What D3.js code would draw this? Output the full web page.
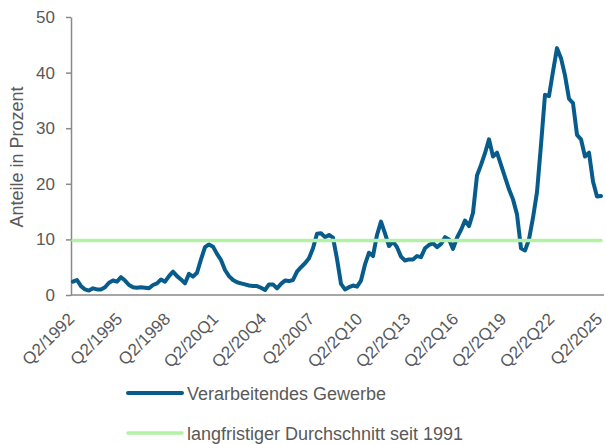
<!DOCTYPE html>
<html>
<head>
<meta charset="utf-8">
<script src="https://cdn.jsdelivr.net/npm/d3@7"></script>
<style>
  html, body { margin: 0; padding: 0; background: #fff; }
  text { font-family: "Liberation Sans", Arial, sans-serif; }
</style>
</head>
<body>
<svg id="chart" width="606" height="444"></svg>
<script>
// ---- Data ----
const seriesValues = [
  2.4, 2.7, 1.6, 1.0, 0.8, 1.2, 1.0, 1.0, 1.4, 2.2,
  2.6, 2.4, 3.2, 2.6, 1.8, 1.4, 1.3, 1.4, 1.3, 1.2,
  1.8, 2.1, 2.8, 2.4, 3.4, 4.2, 3.4, 2.8, 2.1, 3.8,
  3.3, 4.0, 6.4, 8.6, 9.1, 8.7, 7.4, 6.3, 4.5, 3.4,
  2.7, 2.3, 2.1, 1.9, 1.7, 1.6, 1.6, 1.3, 0.9, 1.9,
  1.9, 1.2, 2.0, 2.6, 2.5, 2.7, 4.2, 5.0, 5.7, 6.6,
  8.4, 11.0, 11.1, 10.4, 10.8, 10.3, 6.5, 2.0, 1.0, 1.4,
  1.7, 1.5, 2.6, 5.5, 7.6, 7.0, 10.8, 13.2, 11.1, 8.8,
  9.6, 8.6, 6.9, 6.2, 6.4, 6.4, 7.0, 6.8, 8.4, 9.0,
  9.3, 8.6, 9.2, 10.4, 10.0, 8.3, 10.3, 11.7, 13.4, 12.4,
  14.8, 21.5, 23.4, 25.5, 28.0, 24.9, 25.6, 23.4, 21.2, 19.0,
  17.2, 14.5, 8.4, 8.0, 10.0, 13.9, 18.5, 27.0, 36.0, 35.8,
  40.2, 44.4, 42.6, 39.5, 35.3, 34.5, 28.8, 28.0, 24.9, 25.6,
  20.4, 17.7, 17.8
];
const averageValue = 9.8;
const tickLabels = ["Q2/1992", "Q2/1995", "Q2/1998", "Q2/20Q1", "Q2/20Q4", "Q2/2007",
                    "Q2/2Q10", "Q2/2Q13", "Q2/2Q16", "Q2/2Q19", "Q2/2Q22", "Q2/2025"];
const yTicks = [0, 10, 20, 30, 40, 50];
const seriesName = "Verarbeitendes Gewerbe";
const averageName = "langfristiger Durchschnitt seit 1991";
const yTitle = "Anteile in Prozent";

// categories: quarters starting Q2/1992
const categories = [];
{
  let q = 2, yr = 1992;
  for (let i = 0; i < seriesValues.length; i++) {
    categories.push("Q" + q + "/" + yr);
    q++; if (q > 4) { q = 1; yr++; }
  }
}
const tickStep = 12;
const tickCats = tickLabels.map((l, k) => categories[k * tickStep]);

// ---- Chart ----
const svg = d3.select("#chart");
const textColor = "#595959";
const axisColor = "#898989";
const blue = "#075c8b";
const green = "#b2f2a4";

const x = d3.scalePoint().domain(categories).range([71, 603]).padding(0.5);
const y = d3.scaleLinear().domain([0, 50]).range([295, 17]);

// Y axis
const yAxis = svg.append("g").attr("transform", "translate(71,0)")
  .call(d3.axisLeft(y).tickValues(yTicks).tickSize(5).tickSizeOuter(0).tickPadding(11));
yAxis.select(".domain").attr("stroke", axisColor).attr("stroke-width", 1.5);
yAxis.selectAll(".tick line").attr("stroke", axisColor).attr("stroke-width", 1.5);
yAxis.selectAll(".tick text").attr("fill", textColor)
  .style("font-size", "17px").style("font-family", "'Liberation Sans', Arial, sans-serif");

// X axis
const xAxis = svg.append("g").attr("transform", "translate(0,295)")
  .call(d3.axisBottom(x).tickValues(tickCats).tickSize(0).tickSizeOuter(0)
        .tickFormat((d, i) => tickLabels[i]));
xAxis.select(".domain").attr("stroke", axisColor).attr("stroke-width", 1.5)
  .attr("d", "M71,0H604");
xAxis.selectAll(".tick text")
  .attr("fill", textColor)
  .style("font-size", "17px").style("font-family", "'Liberation Sans', Arial, sans-serif")
  .attr("text-anchor", "end")
  .attr("x", 0).attr("y", 0).attr("dy", 0)
  .attr("transform", "translate(2,25) rotate(-45)");

// Y title
svg.append("text")
  .attr("transform", "translate(23,157) rotate(-90)")
  .attr("text-anchor", "middle")
  .attr("fill", textColor)
  .style("font-size", "18px")
  .text(yTitle);

// Series line
const line = d3.line().x((d, i) => x(categories[i])).y(d => y(d));
svg.append("path")
  .datum(seriesValues)
  .attr("d", line)
  .attr("fill", "none")
  .attr("stroke", blue)
  .attr("stroke-width", 4)
  .attr("stroke-linejoin", "round")
  .attr("stroke-linecap", "round");

// Average line
svg.append("path")
  .datum(categories.map(() => averageValue))
  .attr("d", line)
  .attr("fill", "none")
  .attr("stroke", green)
  .attr("stroke-width", 3.5)
  .attr("stroke-linecap", "round");

// Legend
const legend = [
  { name: seriesName, color: blue, w: 4, y: 393 },
  { name: averageName, color: green, w: 3.5, y: 433 }
];
const lg = svg.append("g");
legend.forEach(d => {
  lg.append("line").attr("x1", 128).attr("x2", 182).attr("y1", d.y).attr("y2", d.y)
    .attr("stroke", d.color).attr("stroke-width", d.w).attr("stroke-linecap", "round");
  lg.append("text").attr("x", 187).attr("y", d.y + 6.5)
    .attr("fill", textColor).style("font-size", "18px").text(d.name);
});
</script>
</body>
</html>
